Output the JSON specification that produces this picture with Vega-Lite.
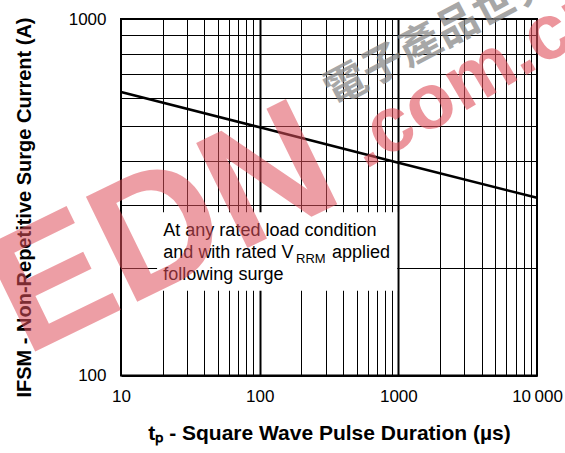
{
  "$schema": "https://vega.github.io/schema/vega-lite/v6.json",
  "autosize": {"type": "none"},
  "padding": {"left": 121, "top": 19, "right": 28, "bottom": 77.5},
  "width": 416,
  "height": 356.5,
  "background": "white",
  "config": {
    "view": {"stroke": "black", "strokeWidth": 2},
    "font": "Liberation Sans"
  },
  "datasets": {
    "curve": [
      {"t": 10, "i": 624},
      {"t": 100, "i": 497},
      {"t": 1000, "i": 395},
      {"t": 10000, "i": 315}
    ],
    "box": [{"t1": 18.2, "t2": 980, "i1": 173, "i2": 287}],
    "notes": [
      {"t": 20.2, "i": 246, "label": "At any rated load condition"},
      {"t": 20.2, "i": 213.6, "label": "and with rated V"},
      {"t": 332, "i": 213.6, "label": "applied"},
      {"t": 20.2, "i": 185.3, "label": "following surge"}
    ],
    "sub": [{"t": 183, "i": 206.8, "label": "RRM"}],
    "wmEDN": [{"t": 20.4, "i": 252.6, "label": "EDN"}],
    "wmCom": [{"t": 574, "i": 377, "label": ".com.cn"}],
    "wmCN": [{"t": 310, "i": 612, "label": "電子產品世界"}]
  },
  "encoding": {
    "x": {
      "field": "t",
      "type": "quantitative",
      "scale": {"type": "log", "domain": [10, 10000], "nice": false},
      "axis": {
        "values": [10, 20, 30, 40, 50, 60, 70, 80, 90, 100, 200, 300, 400, 500, 600, 700, 800, 900, 1000, 2000, 3000, 4000, 5000, 6000, 7000, 8000, 9000, 10000],
        "grid": true,
        "gridColor": "black",
        "gridOpacity": 1,
        "gridWidth": {"condition": {"test": "datum.value == 100 || datum.value == 1000", "value": 2}, "value": 1},
        "ticks": false,
        "domain": false,
        "labelExpr": "datum.value == 10 ? '10' : datum.value == 100 ? '100' : datum.value == 1000 ? '1000' : datum.value == 10000 ? '10\u2009000' : ''",
        "labelFontSize": 17,
        "labelFont": "Liberation Sans",
        "labelColor": "black",
        "labelPadding": 12.5,
        "labelOverlap": false,
        "labelFlush": false,
        "title": "t\u209a - Square Wave Pulse Duration (µs)",
        "titleFont": "Liberation Sans",
        "titleFontSize": 21,
        "titleFontWeight": "bold",
        "titleColor": "black",
        "titlePadding": 18.5
      }
    },
    "y": {
      "field": "i",
      "type": "quantitative",
      "scale": {"type": "log", "domain": [100, 1000], "nice": false},
      "axis": {
        "values": [100, 200, 300, 400, 500, 600, 700, 800, 900, 1000],
        "grid": true,
        "gridColor": "black",
        "gridOpacity": 1,
        "gridWidth": 1,
        "ticks": false,
        "domain": false,
        "labelExpr": "datum.value == 100 ? '100' : datum.value == 1000 ? '1000' : ''",
        "labelFontSize": 17,
        "labelFont": "Liberation Sans",
        "labelColor": "black",
        "labelPadding": 15,
        "labelOverlap": false,
        "labelFlush": false,
        "title": "IFSM - Non-Repetitive Surge Current (A)",
        "titleFont": "Liberation Sans",
        "titleFontSize": 20,
        "titleFontWeight": "bold",
        "titleColor": "black",
        "titlePadding": 34,
        "titleY": 188
      }
    }
  },
  "layer": [
    {
      "data": {"name": "box"},
      "mark": {"type": "rect", "fill": "white", "strokeWidth": 0},
      "encoding": {
        "x": {"field": "t1", "type": "quantitative"},
        "x2": {"field": "t2"},
        "y": {"field": "i1", "type": "quantitative"},
        "y2": {"field": "i2"}
      }
    },
    {
      "data": {"name": "curve"},
      "mark": {"type": "line", "color": "black", "strokeWidth": 2.6}
    },
    {
      "data": {"name": "notes"},
      "mark": {"type": "text", "align": "left", "baseline": "alphabetic", "fontSize": 18, "font": "Liberation Sans", "color": "black"},
      "encoding": {"text": {"field": "label"}}
    },
    {
      "data": {"name": "sub"},
      "mark": {"type": "text", "align": "left", "baseline": "alphabetic", "fontSize": 13, "font": "Liberation Sans", "color": "black"},
      "encoding": {"text": {"field": "label"}}
    },
    {
      "data": {"name": "wmCN"},
      "mark": {"type": "text", "align": "left", "baseline": "middle", "fontSize": 42, "font": "Noto Sans CJK TC", "fontWeight": "bold", "angle": -28, "color": "#8a8a8a", "opacity": 0.75},
      "encoding": {"text": {"field": "label"}}
    },
    {
      "data": {"name": "wmEDN"},
      "mark": {"type": "text", "align": "center", "baseline": "middle", "fontSize": 170, "font": "Liberation Sans", "fontWeight": "bold", "angle": -26, "color": "#e0505c", "opacity": 0.55},
      "encoding": {"text": {"field": "label"}}
    },
    {
      "data": {"name": "wmCom"},
      "mark": {"type": "text", "align": "left", "baseline": "alphabetic", "fontSize": 78, "font": "Liberation Sans", "fontWeight": "bold", "angle": -30.5, "color": "#e0505c", "opacity": 0.6},
      "encoding": {"text": {"field": "label"}}
    }
  ]
}
